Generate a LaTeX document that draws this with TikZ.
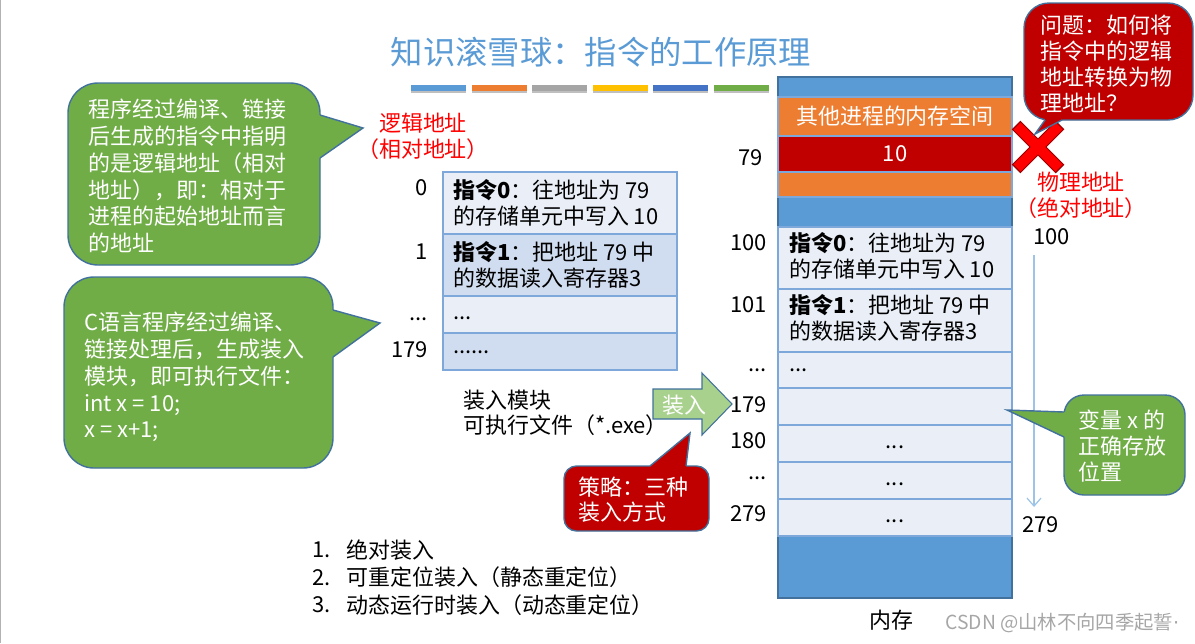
\documentclass[tikz,border=0pt]{standalone}
\usepackage{fontspec}
\setmainfont{Noto Sans CJK SC}
\newfontfamily\dotfont{DejaVu Sans}
\usetikzlibrary{arrows.meta}

\definecolor{titleblue}{HTML}{5B9BD5}
\definecolor{memblue}{HTML}{5B9BD5}
\definecolor{edgeblue}{HTML}{41719C}
\definecolor{cellline}{HTML}{7FA8DA}
\definecolor{celllight}{HTML}{E9EEF7}
\definecolor{celldark}{HTML}{D0DCEF}
\definecolor{pptorange}{HTML}{ED7D31}
\definecolor{pptred}{HTML}{C00000}
\definecolor{pptgreen}{HTML}{70AD47}
\definecolor{arrowgreen}{HTML}{A9D18E}
\definecolor{pptgray}{HTML}{A5A5A5}
\definecolor{pptyellow}{HTML}{FFC000}
\definecolor{pptblue}{HTML}{4472C4}
\definecolor{addrred}{HTML}{FF0000}
\definecolor{scanblue}{HTML}{9DC3E6}

\tikzset{
  txt/.style={font=\fontsize{12.5}{14.5}\selectfont, inner sep=0pt},
  calltxt/.style={font=\fontsize{12.5}{15.3}\selectfont, inner sep=0pt, text=white, align=left, anchor=north west},
  callgreen/.style={fill=pptgreen, draw=edgeblue, line width=0.8pt},
  callred/.style={fill=pptred, draw=edgeblue, line width=0.8pt},
  tipedge/.style={draw=edgeblue, line width=0.8pt},
  cell/.style={draw=cellline, line width=0.8pt}
}

\begin{document}
\begin{tikzpicture}[x=0.02cm, y=-0.02cm]
    \useasboundingbox (0,0) rectangle (1195,643);
    \draw [gray!60, line width=1pt] (0.5,0) -- (0.5,643);

    % title and colour bars
    \node (title) [font=\fontsize{18.4}{20}\selectfont, text=titleblue, inner sep=0pt] at (601,52) {知识滚雪球：指令的工作原理};
    \foreach \barc [count=\i from 0] in {memblue, pptorange, pptgray, pptyellow, pptblue, pptgreen} {
        \fill [black!25] ({411+60.6*\i},87) rectangle ++(55,6);
        \fill [\barc] ({411+60.6*\i},85) rectangle ++(55,6);
    }

    % green note on the logical address
    \draw [callgreen, rounded corners=0.6cm] (68,83) rectangle (320,265);
    \fill [pptgreen] (317,115) -- (320,115) -- (363,128) -- (320,158) -- (317,158) -- cycle;
    \draw [tipedge] (320,115) -- (363,128) -- (320,158);
    \node (noteA) [calltxt] at (88,98.5) {程序经过编译、链接\\后生成的指令中指明\\的是逻辑地址（相对\\地址），即：相对于\\进程的起始地址而言\\的地址};

    % green note on the load module
    \draw [callgreen, rounded corners=0.6cm] (64,277) rectangle (333,468);
    \fill [pptgreen] (330,310) -- (333,310) -- (380,323) -- (333,357) -- (330,357) -- cycle;
    \draw [tipedge] (333,310) -- (380,323) -- (333,357);
    \node (noteB) [calltxt] at (84,311.5) {C语言程序经过编译、\\链接处理后，生成装入\\模块，即可执行文件：\\int x = 10;\\x = x+1;};

    % logical addresses and load module
    \node (logaddr) [txt, text=addrred, align=center] at (423,136.5) {逻辑地址\\（相对地址）};
    \foreach \ya/\yb/\cellc in {172/234/celllight, 234/296/celldark, 296/333/celllight, 333/370/celldark}
        \draw [cell, fill=\cellc] (443,\ya) rectangle (677,\yb);
    \node (ins0) [txt, align=left, anchor=north west] at (453,179.5) {\textbf{指令0}：往地址为 79\\的存储单元中写入 10};
    \node (ins1) [txt, align=left, anchor=north west] at (453,241.5) {\textbf{指令1}：把地址 79 中\\的数据读入寄存器3};
    \node (insdots) [txt, anchor=west] at (453,318) {...};
    \node (insend) [txt, anchor=west] at (453,352) {......};
    \node (la0) [txt, anchor=east] at (428,188) {0};
    \node (la1) [txt, anchor=east] at (428,252) {1};
    \node (ladots) [txt, anchor=east] at (428,319) {...};
    \node (la179) [txt, anchor=east] at (428,350) {179};
    \node (module) [txt, align=left, anchor=north west] at (463,389.5) {装入模块\\可执行文件（*.exe）};

    % load arrow
    \draw [fill=arrowgreen, draw=edgeblue, line width=0.6pt] (653,389) -- (702,389) -- (702,373) -- (732,404) -- (702,435) -- (702,419) -- (653,419) -- cycle;
    \node (load) [txt, text=white] at (684,405) {装入};

    % red note: strategies
    \draw [callred, rounded corners=0.25cm] (564,466) rectangle (709,531);
    \fill [pptred] (650,469) -- (650,466) -- (690,433) -- (686,466) -- (686,469) -- cycle;
    \draw [tipedge] (650,466) -- (690,433) -- (686,466);
    \node (plan) [calltxt, font=\fontsize{12.5}{14.5}\selectfont] at (578,476.5) {策略：三种\\装入方式};
    \foreach \waytext [count=\i] in {绝对装入, 可重定位装入（静态重定位）, 动态运行时装入（动态重定位）} {
        \node (num\i) [txt, anchor=west] at (312,522.5+27.5*\i) {\i.};
        \node (way\i) [txt, anchor=west] at (346,522.5+27.5*\i) {\waytext};
    }

    % memory
    \draw [fill=memblue, draw=edgeblue, line width=0.8pt] (778,77) rectangle (1012,598);
    \draw [cell, fill=pptorange] (778,97) rectangle (1012,136);
    \draw [cell, fill=pptred] (778,136) rectangle (1012,172);
    \draw [cell, fill=pptorange] (778,172) rectangle (1012,197);
    \node (other) [txt, text=white] at (895,116) {其他进程的内存空间};
    \node (ten) [txt, text=white] at (895,154) {10};
    \foreach \ya/\yb in {227/289, 289/352, 352/388, 388/425, 425/462, 462/499, 499/536}
        \draw [cell, fill=celllight] (778,\ya) rectangle (1012,\yb);
    \node (m100) [txt, align=left, anchor=north west] at (789,232.5) {\textbf{指令0}：往地址为 79\\的存储单元中写入 10};
    \node (m101) [txt, align=left, anchor=north west] at (789,294.5) {\textbf{指令1}：把地址 79 中\\的数据读入寄存器3};
    \node (mdots) [txt, anchor=west] at (789,370) {...};
    \node (m180) [txt] at (895,447) {...};
    \node (m181) [txt] at (895,484) {...};
    \node (m279) [txt] at (895,521) {...};
    \node (pa79) [txt, anchor=east] at (763,158) {79};
    \foreach \lab/\y in {100/243, 101/305, 179/405, 180/441, 279/514}
        \node (pa\lab) [txt, anchor=east] at (767,\y) {\lab};
    \node (padotsA) [txt, anchor=east] at (767,370) {...};
    \node (padotsB) [txt, anchor=east] at (767,478) {...};
    \node (memname) [txt] at (891,620) {内存};

    % physical addresses
    \node (phyaddr) [txt, text=addrred, align=center] at (1081,195.5) {物理地址\\（绝对地址）};
    \node (pb100) [txt, anchor=west] at (1033,237) {100};
    \node (pb279) [txt, anchor=west] at (1022,525) {279};
    \coordinate (scanA) at (1034,255);
    \coordinate (scanB) at (1034,507);
    \draw [scanblue, line width=0.7pt, -{Straight Barb[length=1.6mm, width=2.8mm]}] (scanA) -- (scanB);

    % wrong cell mark and question
    \draw [line width=7pt, pptred!80!black] (1016,125) -- (1060,169) (1016,169) -- (1060,125);
    \draw [line width=5.8pt, addrred] (1017,126) -- (1059,168) (1017,168) -- (1059,126);
    \draw [callred, rounded corners=0.5cm] (1024,3) rectangle (1193,120);
    \fill [pptred] (1045,117) -- (1045,120) -- (1035,134) -- (1062,120) -- (1062,117) -- cycle;
    \draw [tipedge] (1045,120) -- (1035,134) -- (1062,120);
    \node (question) [calltxt, font=\fontsize{12.5}{14.8}\selectfont] at (1040,14.5) {问题：如何将\\指令中的逻辑\\地址转换为物\\理地址？};

    % green note: where x lives
    \draw [callgreen, rounded corners=0.4cm] (1064,395) rectangle (1185,495);
    \fill [pptgreen] (1067,412) -- (1064,412) -- (1007,410) -- (1064,437) -- (1067,437) -- cycle;
    \draw [tipedge] (1064,412) -- (1007,410) -- (1064,437);
    \node (varx) [calltxt, font=\fontsize{12.5}{14.8}\selectfont] at (1078,409.5) {变量 x 的\\正确存放\\位置};

    \node (mark) [font=\fontsize{11}{12}\selectfont, text=gray!70, anchor=west, inner sep=0pt] at (945,623) {CSDN @山林不向四季起誓{\dotfont ·}};
\end{tikzpicture}
\end{document}
